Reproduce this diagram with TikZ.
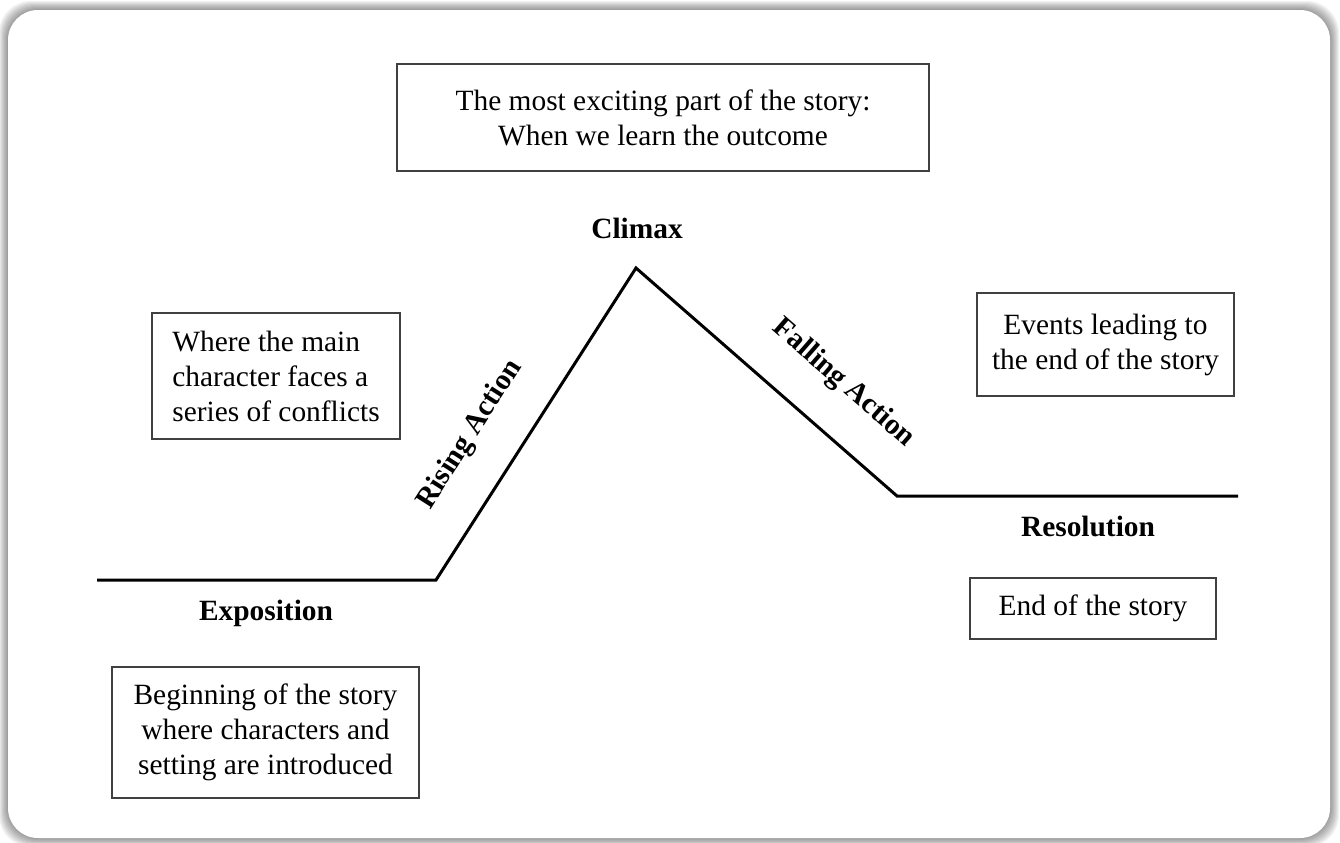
\documentclass[tikz,border=0pt]{standalone}
\usepackage{fontspec}
\setmainfont{Liberation Serif}
\usetikzlibrary{positioning}

\tikzset{
  note/.style={draw=black!75, line width=0.7pt, inner sep=0pt, align=center,
    font=\fontsize{14.7}{17.5}\selectfont},
  stage/.style={font=\fontsize{14.7}{17.5}\selectfont\bfseries},
  plot/.style={line width=1.5pt, line join=miter},
}

\begin{document}
\begin{tikzpicture}[x=0.5pt,y=-0.5pt]
	\useasboundingbox (0,0) rectangle (1340,842);
	% card with soft shadow
	\foreach \k in {1,...,9}
		\fill[black,opacity=0.05,rounded corners=16pt] (8-\k,10-\k) rectangle (1330+\k,838+\k);
	\fill[white,rounded corners=15pt] (8,10) rectangle (1330,838);
	% plot line
	\coordinate (start) at (97,580);
	\coordinate (rise) at (436,580);
	\coordinate (peak) at (636,268);
	\coordinate (fall) at (897,496);
	\coordinate (stop) at (1238,496);
	\draw[plot] (start) -- (rise)
		-- node[stage,sloped,above=14pt,pos=0.38](rlab){Rising Action} (peak)
		-- node[stage,sloped,above=14pt,pos=0.67](flab){Falling Action} (fall)
		-- (stop);
	% stage names
	\node[stage](climax) at (637,228) {Climax};
	\node[stage](expo) at (266,613) {Exposition};
	\node[stage](reso) at (1088,526) {Resolution};
	% notes
	\node[note,minimum width=266pt,minimum height=53.5pt](tip) at (663,117.5)
		{The most exciting part of the story:\\When we learn the outcome};
	\node[note,align=left,minimum width=124pt,minimum height=63pt](conf) at (276,376)
		{Where the main\\character faces a\\series of conflicts};
	\node[note,minimum width=128.5pt,minimum height=51.5pt](evts) at (1105.5,344.5)
		{Events leading to\\the end of the story};
	\node[note,minimum width=123pt,minimum height=30.5pt](fin) at (1093,608.5)
		{End of the story};
	\node[note,minimum width=153.5pt,minimum height=65.5pt](beg) at (265.5,732.5)
		{Beginning of the story\\where characters and\\setting are introduced};
\end{tikzpicture}
\end{document}
